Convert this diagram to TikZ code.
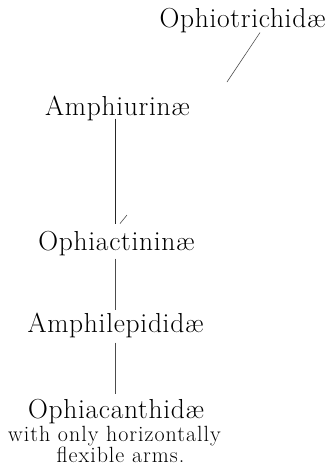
\documentclass[tikz,border=0pt]{standalone}
\usepackage{fontspec}
\newfontfamily\widetaxon{Latin Modern Roman}[LetterSpace=2.5]
\newfontfamily\widenote{Latin Modern Roman}[LetterSpace=4.5]
\begin{document}
\begin{tikzpicture}[x=1pt,y=-1pt,
  taxon/.style={inner sep=0pt,anchor=base,font=\widetaxon\fontsize{27.5}{30}\selectfont},
  note/.style={inner sep=0pt,anchor=base,text height=12pt,text depth=3pt,font=\widenote\fontsize{22}{24}\selectfont},
  link/.style={line width=0.9pt,draw=black!85},
  thin/.style={line width=0.6pt,draw=black!70}]
\useasboundingbox (0,0) rectangle (327,466);
\coordinate (spine) at (115,0);
\node[taxon] (otr) at (242.5,27) {Ophiotrichidæ};
\node[taxon] (amph) at (117.5,115) {Amphiurinæ};
\node[taxon] (oa) at (116.5,250) {Ophiactininæ};
\node[taxon] (amphi) at (115.5,332) {Amphilepididæ};
\node[taxon] (ophiac) at (116,418) {Ophiacanthidæ};
\node[note] (n1) at (114.5,441) {with only horizontally};
\node[note,text depth=1pt] (n2) at (120.5,462.5) {flexible arms.};
\coordinate (dfade) at (227,82);
\coordinate (dtick) at (127,215);
% connectors
\draw[link,shorten <=-2pt,shorten >=7pt] (amph.south -| spine) -- (oa.north -| spine);
\draw[thin,shorten <=3pt,shorten >=2pt] (oa.south -| spine) -- (amphi.north -| spine);
\draw[thin,shorten <=5pt,shorten >=5pt] (amphi.south -| spine) -- (ophiac.north -| spine);
\draw[thin] ([xshift=17.5pt]otr.south) -- (dfade);
\draw[thin] (dtick) -- ([xshift=3.5pt,yshift=7pt]oa.north);
\end{tikzpicture}
\end{document}
